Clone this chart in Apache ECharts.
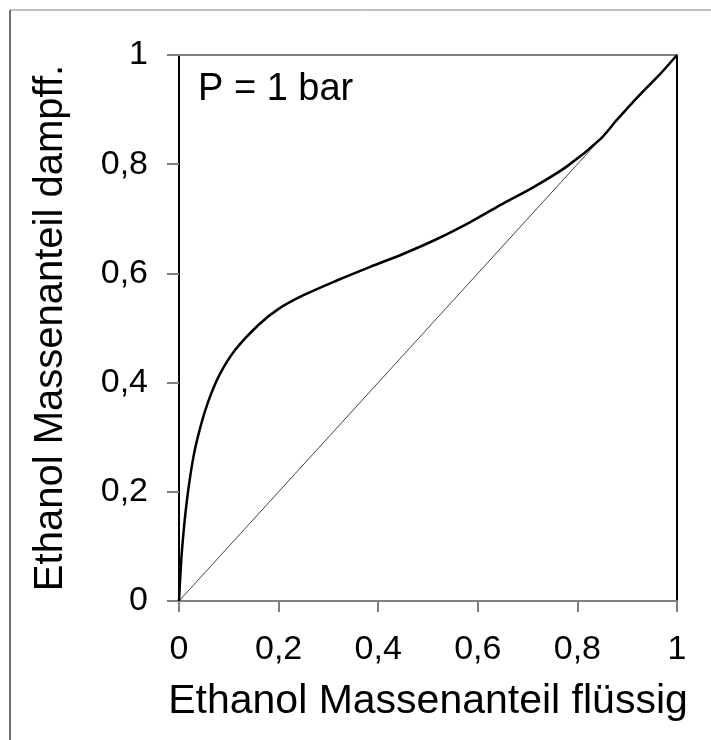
<!DOCTYPE html>
<html>
<head>
<meta charset="utf-8">
<script src="https://cdn.jsdelivr.net/npm/echarts@6/dist/echarts.min.js"></script>
<style>
  html, body { margin: 0; padding: 0; background: #fff; }
  #chart-container { width: 711px; height: 740px; }
</style>
</head>
<body>
<div id="chart-container"></div>
<script>
// Ethanol mass fraction, liquid (x) vs vapour (y), P = 1 bar
var liquidFrac = [0, 0.006, 0.016, 0.029, 0.043, 0.059, 0.08, 0.113, 0.16, 0.2, 0.25, 0.317, 0.384, 0.451, 0.518, 0.585, 0.645, 0.712, 0.779, 0.846, 0.88, 0.926, 0.966, 1];
var vaporFrac  = [0, 0.093, 0.185, 0.264, 0.319, 0.366, 0.412, 0.46, 0.506, 0.535, 0.56, 0.587, 0.612, 0.636, 0.663, 0.694, 0.725, 0.758, 0.796, 0.846, 0.882, 0.928, 0.965, 1];
var diagX = [0, 1];
var diagY = [0, 1];

var xName = 'Ethanol Massenanteil flüssig';
var yName = 'Ethanol Massenanteil dampff.';
var pressureLabel = 'P = 1 bar';

var font = 'Liberation Sans, Arial, sans-serif';

function pairs(xs, ys) {
    var out = [];
    for (var i = 0; i < xs.length; i++) {
        out.push([xs[i], ys[i]]);
    }
    return out;
}

function komma(v) {
    return String(Math.round(v * 10) / 10).replace('.', ',');
}

var dom = document.getElementById('chart-container');
var myChart = echarts.init(dom, null, {renderer: 'canvas'});

var option = {
    animation: false,
    backgroundColor: '#fff',
    grid: {left: 179, right: 34, top: 55, bottom: 139},
    xAxis: [
        {
            type: 'value', min: 0, max: 1, interval: 0.2,
            name: xName, nameLocation: 'middle', nameGap: 80,
            nameTextStyle: {fontFamily: font, fontSize: 41, color: '#000'},
            axisLine: {show: true, lineStyle: {color: '#808080', width: 2}},
            axisTick: {show: true, length: 11, lineStyle: {color: '#808080', width: 2}},
            axisLabel: {fontFamily: font, fontSize: 34, color: '#000', margin: 32, formatter: komma},
            splitLine: {show: false}
        },
        {
            type: 'value', min: 0, max: 1, position: 'top',
            axisLine: {show: true, onZero: false, lineStyle: {color: '#808080', width: 2}},
            axisTick: {show: false}, axisLabel: {show: false}, splitLine: {show: false}
        }
    ],
    yAxis: [
        {
            type: 'value', min: 0, max: 1, interval: 0.2,
            name: yName, nameLocation: 'middle', nameGap: 108,
            nameTextStyle: {fontFamily: font, fontSize: 40, color: '#000'},
            axisLine: {show: true, lineStyle: {color: '#000', width: 2}},
            axisTick: {show: true, length: 12, lineStyle: {color: '#808080', width: 2}},
            axisLabel: {fontFamily: font, fontSize: 34, color: '#000', margin: 31, formatter: komma},
            splitLine: {show: false}
        },
        {
            type: 'value', min: 0, max: 1, position: 'right',
            axisLine: {show: true, onZero: false, lineStyle: {color: '#000', width: 2}},
            axisTick: {show: false}, axisLabel: {show: false}, splitLine: {show: false}
        }
    ],
    graphic: [
        {type: 'line', shape: {x1: 10, y1: 10, x2: 711, y2: 10}, style: {stroke: '#808080', lineWidth: 1}},
        {type: 'line', shape: {x1: 10, y1: 10, x2: 10, y2: 740}, style: {stroke: '#707070', lineWidth: 2}},
        {
            type: 'text', left: 198, top: 71,
            style: {text: pressureLabel, fontFamily: font, fontSize: 38, fill: '#000'}
        }
    ],
    series: [
        {
            type: 'line',
            data: pairs(diagX, diagY),
            showSymbol: false,
            lineStyle: {color: '#444', width: 1},
            z: 2
        },
        {
            type: 'line',
            data: pairs(liquidFrac, vaporFrac),
            smooth: 0.3,
            showSymbol: false,
            lineStyle: {color: '#000', width: 2.5},
            z: 3
        }
    ]
};

myChart.setOption(option);
window.addEventListener('resize', myChart.resize);
</script>
</body>
</html>
